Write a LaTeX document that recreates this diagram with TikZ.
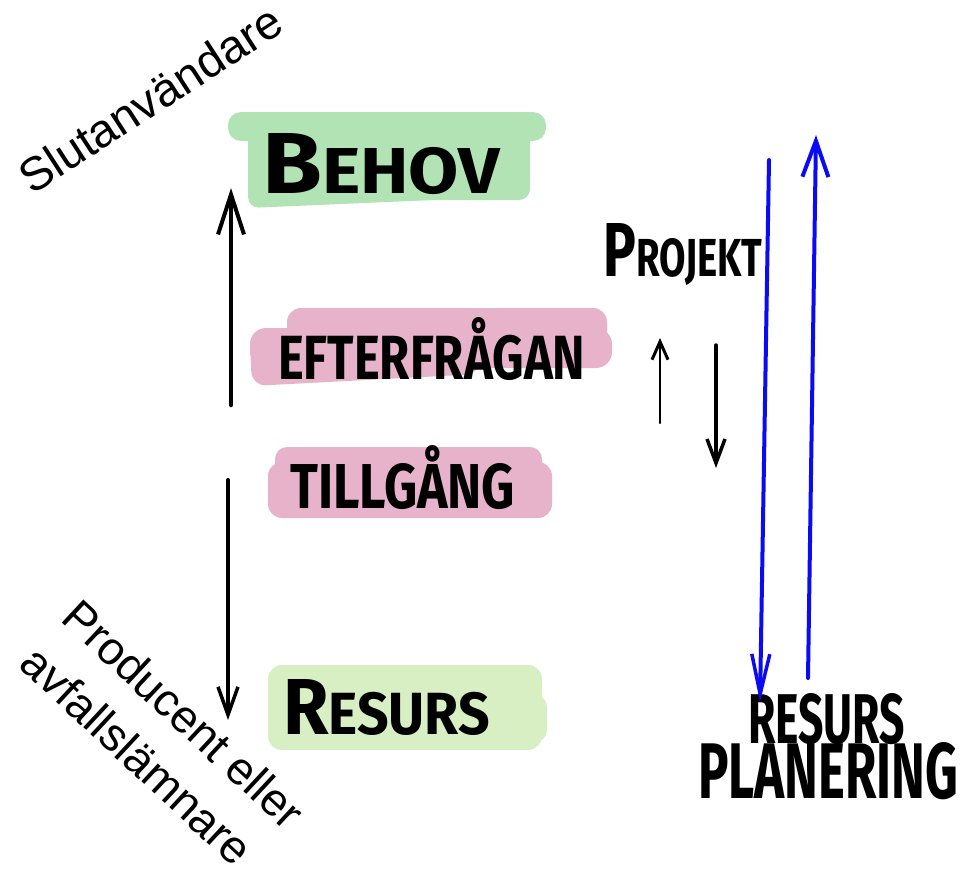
\documentclass[tikz,border=0pt]{standalone}
\usepackage{fontspec}
\usepackage{graphicx}
\setmainfont{Liberation Sans}
\newfontfamily\hand{Fira Sans}
\usetikzlibrary{arrows.meta}
\definecolor{behovgreen}{HTML}{B2E3B4}
\definecolor{resursgreen}{HTML}{D8EFC3}
\definecolor{pinkblob}{HTML}{E6B3CB}
\definecolor{penblue}{HTML}{0A0AF5}
\tikzset{
  handlabel/.style={inner sep=0pt, anchor=south west, font=\hand\bfseries},
  pen/.style={line width=#1, line cap=round},
  rotlabel/.style={inner sep=0pt, font=\fontsize{46}{62}\selectfont}
}
\newcommand{\hw}[3]{\resizebox{#1pt}{#2pt}{#3}}
\begin{document}
\begin{tikzpicture}[x=1pt,y=-1pt]
\useasboundingbox (0,0) rectangle (963,868);
% blobs
\fill[behovgreen, rounded corners=13pt] (228,112) rectangle (546,141);
\fill[behovgreen, rounded corners=11pt] (248,125) rectangle (530,200);
\fill[behovgreen, rounded corners=11pt] (248,160) -- (480,160) -- (480,198) -- (248,208) -- cycle;
\fill[pinkblob, rounded corners=14pt] (287,308) rectangle (607,346);
\fill[pinkblob, rounded corners=16pt] (250,328) rectangle (612,368);
\fill[pinkblob, rounded corners=14pt] (250,345) -- (480,345) -- (480,374) -- (252,386) -- cycle;
\fill[pinkblob, rounded corners=12pt] (275,447) rectangle (542,492);
\fill[pinkblob, rounded corners=14pt] (268,462) rectangle (552,518);
\fill[resursgreen, rounded corners=14pt] (268,665) rectangle (542,750);
\fill[resursgreen, rounded corners=12pt] (500,695) rectangle (547,742);
% labels
\node[handlabel] (behov) at (262,195) {\hw{238}{60}{\fontsize{20}{20}\selectfont B\fontsize{15}{15}\selectfont EHOV}};
\node[handlabel] (efterfragan) at (278,381) {\hw{307}{62}{EFTERFRÅGAN}};
\node[handlabel] (tillgang) at (290,510) {\hw{225}{63}{TILLGÅNG}};
\node[handlabel] (resurs) at (283,736) {\hw{207}{55}{\fontsize{20}{20}\selectfont R\fontsize{15}{15}\selectfont ESURS}};
\node[handlabel] (projekt) at (603,286) {\hw{159}{53}{\fontsize{20}{20}\selectfont P\fontsize{14}{14}\selectfont ROJEKT}};
\node[handlabel] (resurs2) at (748,745) {\hw{157}{50}{RESURS}};
\node[handlabel] (planering) at (698,800) {\hw{260}{56}{PLANERING}};
% rotated texts
\node[rotlabel, rotate=33, font=\fontsize{47}{62}\selectfont] (slut) at (150,99) {Slutanvändare};
\node[rotlabel, rotate=-43, align=left] (prod) at (163,737) {Producent eller\\avfallslämnare};
% arrow end points
\coordinate (a1s) at (231,405); \coordinate (a1e) at (231,188);
\coordinate (a2s) at (228,480); \coordinate (a2e) at (228,720);
\coordinate (a3s) at (660,423); \coordinate (a3e) at (660,338);
\coordinate (a4s) at (716,345); \coordinate (a4e) at (716,468);
\coordinate (b1s) at (769,160); \coordinate (b1e) at (760,702);
\coordinate (b2s) at (808,678); \coordinate (b2e) at (816,135);
% arrows
\draw[pen=4.5pt, -{Straight Barb[length=40pt,width=26pt,line width=4pt]}] (a1s) -- (a1e);
\draw[pen=4pt, -{Straight Barb[length=28pt,width=20pt,line width=3.5pt]}] (a2s) -- (a2e);
\draw[pen=2pt, -{Straight Barb[length=18pt,width=16pt,line width=3pt]}] (a3s) -- (a3e);
\draw[pen=3.5pt, -{Straight Barb[length=24pt,width=18pt,line width=3.5pt]}] (a4s) -- (a4e);
\draw[pen=4pt, penblue, -{Straight Barb[length=40pt,width=18pt,line width=3.5pt]}] (b1s) -- (b1e);
\draw[pen=4pt, penblue, -{Straight Barb[length=36pt,width=26pt,line width=4pt]}] (b2s) -- (b2e);
\end{tikzpicture}
\end{document}
